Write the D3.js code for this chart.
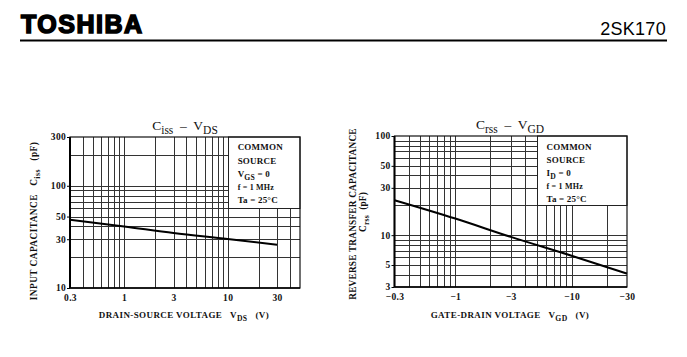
<!DOCTYPE html>
<html><head><meta charset="utf-8">
<script src="https://cdn.jsdelivr.net/npm/d3@7"></script>
<style>
body{margin:0;background:#fff;}
svg{display:block;}
text{font-family:"Liberation Serif","Times New Roman",serif;font-weight:bold;fill:#111;white-space:pre;}
</style></head>
<body>
<script>
// ---- data ----
const vds = [0.3, 1, 3, 10, 30];
const ciss = [46.5, 40, 34.5, 30.2, 26.5];
const vgd = [0.3, 1, 3, 10, 30];          // magnitudes of negative gate-drain voltages
const crss = [22.5, 14.7, 9.6, 6.2, 4.1];

const leftXTicks = [0.3, 1, 3, 10, 30];
const leftYTicks = [10, 30, 50, 100, 300];
const rightXTicks = [0.3, 1, 3, 10, 30];
const rightYTicks = [3, 5, 10, 30, 50, 100];

const leftXGrid = [0.4,0.5,0.6,0.7,0.8,0.9,1,2,3,4,5,6,7,8,9,10,20,30,40];
const leftYGrid = [20,30,40,50,60,70,80,90,100,200];
const rightXGrid = [0.4,0.5,0.6,0.7,0.8,0.9,1,2,3,4,5,6,7,8,9,10,20];
const rightYGrid = [4,5,6,7,8,9,10,20,30,40,50,60,70,80,90];

const W = 687, H = 357;
const svg = d3.select("body").append("svg").attr("width", W).attr("height", H);

// ---- header ----
svg.append("text").attr("x", 21).attr("y", 33).text("TOSHIBA")
  .style("font-family", "'Liberation Sans',Arial,sans-serif").style("font-size", "25px")
  .style("font-weight", "900").attr("stroke", "#000").attr("stroke-width", 1.6).style("fill", "#000")
  .attr("letter-spacing", "1.5");
svg.append("text").attr("x", 666).attr("y", 35).attr("text-anchor", "end").text("2SK170")
  .style("font-family", "'Liberation Sans',Arial,sans-serif").style("font-size", "18px")
  .style("font-weight", "normal").style("fill", "#000").attr("letter-spacing", "0.3");
svg.append("line").attr("x1", 20).attr("x2", 667).attr("y1", 40.5).attr("y2", 40.5)
  .attr("stroke", "#000").attr("stroke-width", 2);

function subText(sel, parts, size) {
  let off = 0;
  parts.forEach(([t, sub]) => {
    const want = sub ? size * 0.3 : 0;
    const ts = sel.append("tspan").text(t).attr("dy", want - off);
    if (sub) ts.style("font-size", (size * 0.85) + "px");
    off = want;
  });
}

function chart(cfg) {
  const g = svg.append("g");
  const x = d3.scaleLog().domain(cfg.xDomain).range(cfg.xRange);
  const y = d3.scaleLog().domain(cfg.yDomain).range(cfg.yRange);
  const [x0, x1] = cfg.xRange, [y0, y1] = cfg.yRange; // y0 bottom, y1 top

  // grid
  g.selectAll(".vg").data(cfg.xGrid).join("line")
    .attr("x1", d => Math.round(x(d)) + 0.5).attr("x2", d => Math.round(x(d)) + 0.5)
    .attr("y1", y1).attr("y2", y0).attr("stroke", "#333").attr("stroke-width", 1);
  g.selectAll(".hg").data(cfg.yGrid).join("line")
    .attr("y1", d => Math.round(y(d)) + 0.5).attr("y2", d => Math.round(y(d)) + 0.5)
    .attr("x1", x0).attr("x2", x1).attr("stroke", "#333").attr("stroke-width", 1);

  // legend box
  const bx = x(cfg.boxX), by = y(cfg.boxY);
  g.append("rect").attr("x", Math.round(bx) + 0.5).attr("y", y1).attr("width", x1 - Math.round(bx) - 0.5)
    .attr("height", Math.round(by) + 0.5 - y1).attr("fill", "#fff").attr("stroke", "#222").attr("stroke-width", 1);

  // border
  g.append("rect").attr("x", x0).attr("y", y1).attr("width", x1 - x0).attr("height", y0 - y1)
    .attr("fill", "none").attr("stroke", "#111").attr("stroke-width", 1.2);
  g.append("line").attr("x1", x0).attr("x2", x0).attr("y1", y1).attr("y2", y0)
    .attr("stroke", "#000").attr("stroke-width", 2);
  g.append("line").attr("x1", x0).attr("x2", x1).attr("y1", y0).attr("y2", y0)
    .attr("stroke", "#000").attr("stroke-width", 1.6);

  // axes
  const ax = d3.axisBottom(x).tickValues(cfg.xTicks).tickSize(0).tickPadding(6).tickFormat(cfg.xFmt);
  const ay = d3.axisLeft(y).tickValues(cfg.yTicks).tickSize(3).tickPadding(1).tickFormat(d3.format("d"));
  const gx = g.append("g").attr("transform", `translate(0,${y0})`).call(ax);
  const gy = g.append("g").attr("transform", `translate(${x0},0)`).call(ay);
  [gx, gy].forEach(a => {
    a.select(".domain").remove();
    a.selectAll("text").style("font-family", "'Liberation Serif',serif").style("font-weight", "bold")
      .style("font-size", "9.5px").attr("fill", "#111").attr("letter-spacing", "0.3");
    a.selectAll("line").attr("stroke", "#000");
  });
  gy.selectAll(".tick text").attr("dy", "0.3em");

  // curve
  const line = d3.line().x(d => x(d[0])).y(d => y(d[1])).curve(d3.curveMonotoneX);
  g.append("path").datum(cfg.xs.map((v, i) => [v, cfg.ys[i]])).attr("d", line)
    .attr("fill", "none").attr("stroke", "#000").attr("stroke-width", 2);

  // legend text
  const lx = bx + 10;
  cfg.legend.forEach((parts, i) => {
    const t = g.append("text").attr("x", lx).attr("y", cfg.legendY[i])
      .style("font-size", parts.size + "px").attr("letter-spacing", "0.2");
    subText(t, parts.p, parts.size);
  });

  // title
  const tt = g.append("text").attr("x", cfg.titleX).attr("y", cfg.titleY).attr("text-anchor", "middle")
    .style("font-size", "13.5px").style("font-weight", "normal");
  subText(tt, cfg.title, 13.5);

  // x label
  const xl = g.append("text").attr("x", cfg.xLabelX).attr("y", 318).attr("text-anchor", "middle")
    .style("font-size", "9px").attr("letter-spacing", "0.4");
  subText(xl, cfg.xLabel, 9);

  // y label(s)
  cfg.yLabels.forEach(l => {
    const yl = g.append("text").attr("transform", `translate(${l.x},${l.y}) rotate(-90)`)
      .attr("text-anchor", "middle").style("font-size", "9.3px").attr("letter-spacing", l.ls);
    subText(yl, l.p, 9.3);
  });
}

chart({
  xDomain: [0.3, 50], xRange: [70, 300], yDomain: [10, 300], yRange: [288, 137],
  xGrid: leftXGrid, yGrid: leftYGrid, xTicks: leftXTicks, yTicks: leftYTicks,
  xFmt: d => d3.format("~g")(d),
  boxX: 10, boxY: 60,
  xs: vds, ys: ciss,
  legend: [
    {p: [["COMMON", false]], size: 9},
    {p: [["SOURCE", false]], size: 9},
    {p: [["V", false], ["GS", true], [" = 0", false]], size: 9},
    {p: [["f = 1 MHz", false]], size: 8},
    {p: [["Ta = 25°C", false]], size: 9}
  ],
  legendY: [150, 164, 177, 190, 203],
  title: [["C", false], ["iss", true], ["  –  V", false], ["DS", true]], titleX: 185, titleY: 130,
  xLabel: [["DRAIN-SOURCE VOLTAGE   V", false], ["DS", true], ["   (V)", false]], xLabelX: 184,
  yLabels: [{x: 37, y: 221, ls: "0.45", p: [["INPUT CAPACITANCE   C", false], ["iss", true], ["   (pF)", false]]}]
});

chart({
  xDomain: [0.3, 30], xRange: [394.5, 627], yDomain: [3, 100], yRange: [287, 136],
  xGrid: rightXGrid, yGrid: rightYGrid, xTicks: rightXTicks, yTicks: rightYTicks,
  xFmt: d => "\u2212" + d3.format("~g")(d),
  boxX: 5, boxY: 20,
  xs: vgd, ys: crss,
  legend: [
    {p: [["COMMON", false]], size: 9},
    {p: [["SOURCE", false]], size: 9},
    {p: [["I", false], ["D", true], [" = 0", false]], size: 9},
    {p: [["f = 1 MHz", false]], size: 8},
    {p: [["Ta = 25°C", false]], size: 9}
  ],
  legendY: [150, 163, 176, 189, 202],
  title: [["C", false], ["rss", true], ["  –  V", false], ["GD", true]], titleX: 510, titleY: 129,
  xLabel: [["GATE-DRAIN VOLTAGE   V", false], ["GD", true], ["   (V)", false]], xLabelX: 510,
  yLabels: [
    {x: 356, y: 214, ls: "0.2", p: [["REVERSE TRANSFER CAPACITANCE", false]]},
    {x: 366, y: 212, ls: "0.2", p: [["C", false], ["rss", true], ["  (pF)", false]]}
  ]
});
</script>
</body></html>
